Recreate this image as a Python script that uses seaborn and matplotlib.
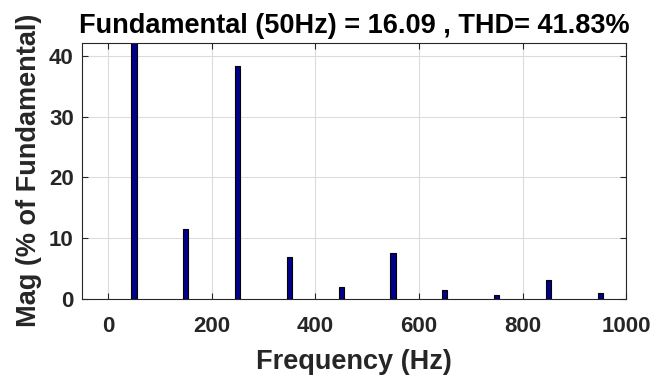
import matplotlib
matplotlib.use("Agg")
import matplotlib.pyplot as plt
import seaborn as sns
import pandas as pd

freqs = [50, 150, 250, 350, 450, 550, 650, 750, 850, 950]
mags = [100.0, 11.5, 38.3, 6.9, 1.9, 7.6, 1.4, 0.7, 3.1, 0.9]
xticks = [0, 200, 400, 600, 800, 1000]
yticks = [0, 10, 20, 30, 40]
title = "Fundamental (50Hz) = 16.09 , THD= 41.83%"

sns.set_theme(style="white")
plt.rcParams['font.family'] = ['Liberation Sans', 'DejaVu Sans']

df = pd.DataFrame({"freq": freqs, "mag": mags})

fig = plt.figure(figsize=(6.57, 3.77), dpi=100)
ax = fig.add_axes([0.125, 0.207, 0.828, 0.68])

sns.barplot(data=df, x="freq", y="mag", native_scale=True, width=0.1,
            color="#00008B", saturation=1, edgecolor="black", linewidth=0.8, ax=ax)

ax.set_xlim(-50, 1000)
ax.set_ylim(0, 42.2)
ax.set_xticks(xticks)
ax.set_yticks(yticks)
ax.grid(True, color="#dcdcdc", linewidth=0.8)
ax.set_axisbelow(True)
for s in ax.spines.values():
    s.set_visible(True)
    s.set_color("#262626")
    s.set_linewidth(0.8)
ax.tick_params(axis="both", which="both", direction="in", length=4, width=0.8,
               top=True, right=True, bottom=True, left=True, colors="#262626",
               labelsize=16)
ax.tick_params(axis="x", pad=12)
ax.tick_params(axis="y", pad=6)
for lab in ax.get_xticklabels() + ax.get_yticklabels():
    lab.set_fontweight("bold")
ax.set_xlabel("Frequency (Hz)", fontsize=19.5, fontweight="bold", color="#262626", labelpad=9)
ax.set_ylabel("Mag (% of Fundamental)", fontsize=19.5, fontweight="bold", color="#262626", labelpad=5)
ax.set_title(title, fontsize=19.5, fontweight="bold", color="black", pad=7)

fig.savefig("out.png", dpi=100)
